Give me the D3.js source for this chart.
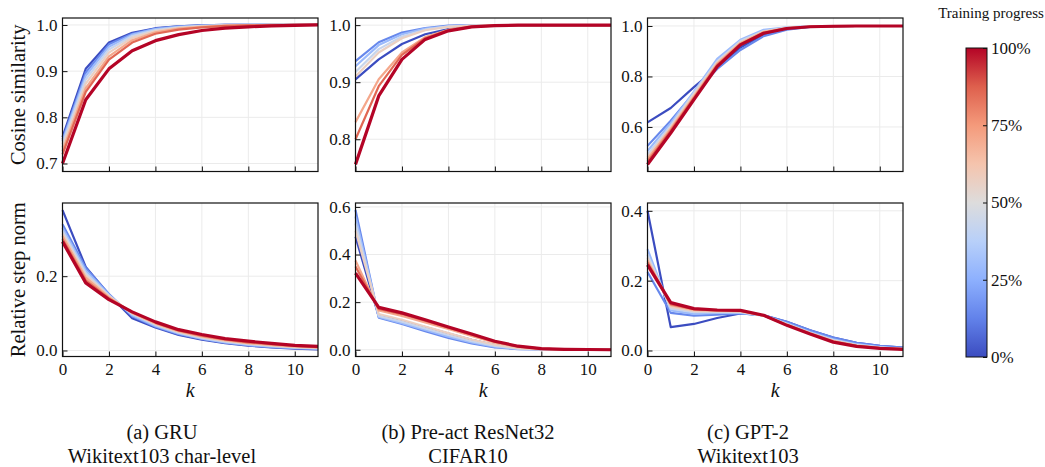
<!DOCTYPE html>
<html>
<head>
<meta charset="utf-8">
<script src="https://cdn.jsdelivr.net/npm/d3@7"></script>
<style>
    body { margin: 0; background: #fff; }
    text { font-family: "Liberation Serif", "Times New Roman", Times, "DejaVu Serif", serif; fill: #111; }
</style>
</head>
<body>
<script>
// k steps and training-progress levels of the plotted checkpoints
const steps = [0, 1, 2, 3, 4, 5, 6, 7, 8, 9, 10, 11];
const progress = [0, 0.14, 0.29, 0.43, 0.57, 0.71, 0.86, 1];

// cosine similarity, one row per checkpoint (0% ... 100%)
const gruCos = [
    [0.757, 0.905, 0.962, 0.983, 0.993, 0.997, 0.999, 1.0, 1.0, 1.0, 1.0, 1.0],
    [0.752, 0.897, 0.958, 0.981, 0.992, 0.997, 0.999, 1.0, 1.0, 1.0, 1.0, 1.0],
    [0.748, 0.890, 0.953, 0.979, 0.991, 0.996, 0.998, 0.999, 1.0, 1.0, 1.0, 1.0],
    [0.742, 0.882, 0.947, 0.976, 0.989, 0.995, 0.998, 0.999, 1.0, 1.0, 1.0, 1.0],
    [0.735, 0.873, 0.940, 0.972, 0.987, 0.994, 0.997, 0.999, 0.999, 1.0, 1.0, 1.0],
    [0.727, 0.863, 0.932, 0.967, 0.984, 0.992, 0.996, 0.998, 0.999, 1.0, 1.0, 1.0],
    [0.720, 0.855, 0.925, 0.962, 0.981, 0.990, 0.995, 0.998, 0.999, 0.999, 1.0, 1.0],
    [0.700, 0.838, 0.905, 0.944, 0.966, 0.979, 0.988, 0.993, 0.996, 0.998, 0.999, 1.0]
];
const resnetCos = [
    [0.905, 0.940, 0.967, 0.984, 0.993, 0.998, 1.0, 1.0, 1.0, 1.0, 1.0, 1.0],
    [0.937, 0.970, 0.987, 0.995, 0.999, 1.0, 1.0, 1.0, 1.0, 1.0, 1.0, 1.0],
    [0.928, 0.965, 0.984, 0.994, 0.998, 1.0, 1.0, 1.0, 1.0, 1.0, 1.0, 1.0],
    [0.918, 0.958, 0.980, 0.992, 0.998, 0.999, 1.0, 1.0, 1.0, 1.0, 1.0, 1.0],
    [0.910, 0.952, 0.977, 0.991, 0.997, 0.999, 1.0, 1.0, 1.0, 1.0, 1.0, 1.0],
    [0.830, 0.905, 0.952, 0.979, 0.992, 0.998, 0.999, 1.0, 1.0, 1.0, 1.0, 1.0],
    [0.800, 0.893, 0.948, 0.977, 0.991, 0.997, 0.999, 1.0, 1.0, 1.0, 1.0, 1.0],
    [0.756, 0.876, 0.940, 0.975, 0.990, 0.997, 0.999, 1.0, 1.0, 1.0, 1.0, 1.0]
];
const gptCos = [
    [0.618, 0.675, 0.758, 0.835, 0.915, 0.965, 0.988, 0.997, 0.999, 1.0, 1.0, 1.0],
    [0.525, 0.625, 0.735, 0.830, 0.905, 0.960, 0.985, 0.996, 0.999, 1.0, 1.0, 1.0],
    [0.505, 0.615, 0.740, 0.870, 0.945, 0.985, 0.995, 0.999, 1.0, 1.0, 1.0, 1.0],
    [0.490, 0.605, 0.735, 0.860, 0.940, 0.980, 0.994, 0.998, 1.0, 1.0, 1.0, 1.0],
    [0.480, 0.598, 0.728, 0.855, 0.935, 0.978, 0.993, 0.998, 1.0, 1.0, 1.0, 1.0],
    [0.472, 0.592, 0.720, 0.850, 0.932, 0.976, 0.992, 0.998, 0.999, 1.0, 1.0, 1.0],
    [0.462, 0.585, 0.715, 0.845, 0.928, 0.973, 0.991, 0.997, 0.999, 1.0, 1.0, 1.0],
    [0.451, 0.576, 0.708, 0.839, 0.925, 0.971, 0.990, 0.997, 0.999, 1.0, 1.0, 1.0]
];

// relative step norm
const gruNorm = [
    [0.378, 0.225, 0.150, 0.087, 0.062, 0.042, 0.029, 0.020, 0.013, 0.008, 0.005, 0.003],
    [0.340, 0.222, 0.152, 0.092, 0.064, 0.044, 0.031, 0.021, 0.014, 0.009, 0.006, 0.004],
    [0.330, 0.215, 0.150, 0.095, 0.066, 0.046, 0.032, 0.022, 0.015, 0.010, 0.007, 0.005],
    [0.322, 0.208, 0.148, 0.098, 0.069, 0.048, 0.034, 0.024, 0.017, 0.012, 0.008, 0.006],
    [0.315, 0.202, 0.146, 0.100, 0.071, 0.050, 0.036, 0.026, 0.019, 0.013, 0.009, 0.007],
    [0.308, 0.196, 0.143, 0.101, 0.073, 0.052, 0.038, 0.028, 0.020, 0.015, 0.011, 0.008],
    [0.300, 0.189, 0.140, 0.103, 0.075, 0.054, 0.040, 0.030, 0.022, 0.017, 0.012, 0.009],
    [0.293, 0.182, 0.137, 0.104, 0.077, 0.056, 0.043, 0.032, 0.025, 0.019, 0.014, 0.011]
];
const resnetNorm = [
    [0.475, 0.140, 0.120, 0.095, 0.068, 0.042, 0.020, 0.007, 0.002, 0.001, 0.0, 0.0],
    [0.587, 0.135, 0.108, 0.078, 0.050, 0.027, 0.010, 0.003, 0.001, 0.0, 0.0, 0.0],
    [0.560, 0.138, 0.112, 0.083, 0.055, 0.031, 0.013, 0.004, 0.001, 0.0, 0.0, 0.0],
    [0.530, 0.142, 0.118, 0.090, 0.062, 0.036, 0.016, 0.005, 0.001, 0.0, 0.0, 0.0],
    [0.500, 0.150, 0.126, 0.098, 0.070, 0.043, 0.021, 0.007, 0.002, 0.0, 0.0, 0.0],
    [0.375, 0.165, 0.142, 0.115, 0.087, 0.058, 0.030, 0.012, 0.004, 0.001, 0.0, 0.0],
    [0.350, 0.172, 0.150, 0.122, 0.093, 0.063, 0.034, 0.014, 0.005, 0.001, 0.0, 0.0],
    [0.322, 0.178, 0.155, 0.126, 0.096, 0.066, 0.036, 0.015, 0.005, 0.002, 0.001, 0.0]
];
const gptNorm = [
    [0.400, 0.067, 0.076, 0.093, 0.106, 0.101, 0.082, 0.058, 0.037, 0.022, 0.013, 0.008],
    [0.225, 0.108, 0.100, 0.103, 0.106, 0.101, 0.082, 0.058, 0.037, 0.022, 0.013, 0.008],
    [0.290, 0.115, 0.105, 0.108, 0.108, 0.100, 0.078, 0.053, 0.032, 0.018, 0.010, 0.005],
    [0.275, 0.120, 0.110, 0.110, 0.110, 0.100, 0.076, 0.051, 0.030, 0.016, 0.009, 0.005],
    [0.265, 0.125, 0.113, 0.112, 0.111, 0.100, 0.075, 0.050, 0.028, 0.015, 0.008, 0.004],
    [0.258, 0.130, 0.116, 0.114, 0.113, 0.100, 0.074, 0.049, 0.027, 0.014, 0.007, 0.004],
    [0.252, 0.133, 0.118, 0.115, 0.114, 0.100, 0.073, 0.048, 0.025, 0.013, 0.007, 0.004],
    [0.245, 0.137, 0.120, 0.116, 0.115, 0.101, 0.072, 0.047, 0.024, 0.012, 0.006, 0.003]
];

const xTicks = [0, 2, 4, 6, 8, 10];
const captions = [
    ["(a) GRU", "Wikitext103 char-level"],
    ["(b) Pre-act ResNet32", "CIFAR10"],
    ["(c) GPT-2", "Wikitext103"]
];
const cbarTicks = [0, 0.25, 0.5, 0.75, 1];

const FONT = '"Liberation Serif", "Times New Roman", Times, "DejaVu Serif", serif';

// matplotlib coolwarm, sampled at 9 points
const coolwarmStops = ["#3b4cc0", "#6282ea", "#8db0fe", "#b8d0f9", "#dddcdc",
                       "#f5c4ad", "#f49a7b", "#de604d", "#b40426"];
const coolwarm = d3.scaleLinear()
    .domain(d3.range(coolwarmStops.length).map(i => i / (coolwarmStops.length - 1)))
    .range(coolwarmStops)
    .interpolate(d3.interpolateRgb);

const panels = [
    { col: 0, row: 0, data: gruCos,     yDomain: [0.6827, 1.0151], yTicks: [0.7, 0.8, 0.9, 1.0], yLabel: "Cosine similarity" },
    { col: 1, row: 0, data: resnetCos,  yDomain: [0.7435, 1.0125], yTicks: [0.8, 0.9, 1.0] },
    { col: 2, row: 0, data: gptCos,     yDomain: [0.4235, 1.0316], yTicks: [0.6, 0.8, 1.0] },
    { col: 0, row: 1, data: gruNorm,    yDomain: [-0.0162, 0.397], yTicks: [0.0, 0.2], yLabel: "Relative step norm" },
    { col: 1, row: 1, data: resnetNorm, yDomain: [-0.0283, 0.6165], yTicks: [0.0, 0.2, 0.4, 0.6] },
    { col: 2, row: 1, data: gptNorm,    yDomain: [-0.0172, 0.4224], yTicks: [0.0, 0.2, 0.4] }
];

const colLeft = [62.5, 355.5, 647.5];
const plotW = 255.5;
const rowTop = [18, 203];
const plotH = 153.5;

const svg = d3.select("body").append("svg")
    .attr("width", 1045)
    .attr("height", 467);

panels.forEach(function (p) {
    let left = colLeft[p.col], top = rowTop[p.row];
    let x = d3.scaleLinear().domain([0, 11]).range([left, left + plotW]);
    let y = d3.scaleLinear().domain(p.yDomain).range([top + plotH, top]);

    let g = svg.append("g");

    // grid
    g.append("g").selectAll("line.gx")
        .data(xTicks)
        .enter().append("line")
        .attr("x1", d => x(d)).attr("x2", d => x(d))
        .attr("y1", top).attr("y2", top + plotH)
        .attr("stroke", "#ebebeb").attr("stroke-width", 1);
    g.append("g").selectAll("line.gy")
        .data(p.yTicks)
        .enter().append("line")
        .attr("x1", left).attr("x2", left + plotW)
        .attr("y1", d => y(d)).attr("y2", d => y(d))
        .attr("stroke", "#ebebeb").attr("stroke-width", 1);

    // lines, 0% first so the finished run is on top
    let line = d3.line()
        .x((d, i) => x(steps[i]))
        .y(d => y(d));

    g.append("g").selectAll("path")
        .data(p.data)
        .enter().append("path")
        .attr("d", line)
        .attr("fill", "none")
        .attr("stroke", (d, i) => coolwarm(progress[i]))
        .attr("stroke-width", (d, i) => i === p.data.length - 1 ? 3.2 : 2.2)
        .attr("stroke-linejoin", "round");

    // axes, ticks pointing inward
    let yAxis = d3.axisLeft(y)
        .tickValues(p.yTicks)
        .tickSizeInner(-5).tickSizeOuter(0).tickPadding(5)
        .tickFormat(d3.format(".1f"));
    let ya = g.append("g").attr("transform", "translate(" + left + ",0)").call(yAxis);

    let xAxis = d3.axisBottom(x)
        .tickValues(xTicks)
        .tickSizeInner(-5).tickSizeOuter(0).tickPadding(6)
        .tickFormat(p.row === 1 ? d3.format("d") : "");
    let xa = g.append("g").attr("transform", "translate(0," + (top + plotH) + ")").call(xAxis);

    [ya, xa].forEach(function (a) {
        a.attr("font-family", FONT);
        a.select(".domain").remove();
        a.selectAll(".tick line").attr("stroke", "#111").attr("stroke-width", 1);
        a.selectAll(".tick text")
            .attr("font-size", 17)
            .attr("fill", "#111");
    });

    g.append("rect")
        .attr("x", left).attr("y", top)
        .attr("width", plotW).attr("height", plotH)
        .attr("fill", "none")
        .attr("stroke", "#111").attr("stroke-width", 1.2);

    if (p.yLabel) {
        g.append("text")
            .attr("transform", "translate(25," + (top + plotH / 2) + ") rotate(-90)")
            .attr("text-anchor", "middle")
            .attr("font-size", 20.5)
            .text(p.yLabel);
    }

    if (p.row === 1) {
        g.append("text")
            .attr("x", left + plotW / 2)
            .attr("y", 397)
            .attr("text-anchor", "middle")
            .attr("font-size", 20)
            .attr("font-style", "italic")
            .text("k");
    }
});

// captions under each column
const captionX = [162, 468, 748];
captions.forEach(function (c, i) {
    svg.append("text")
        .attr("x", captionX[i]).attr("y", 439)
        .attr("text-anchor", "middle")
        .attr("font-size", 20.5)
        .text(c[0]);
    svg.append("text")
        .attr("x", captionX[i]).attr("y", 463)
        .attr("text-anchor", "middle")
        .attr("font-size", 20.5)
        .text(c[1]);
});

// colour bar
const cbX = 966, cbW = 21, cbTop = 48, cbBottom = 357;
let grad = svg.append("defs").append("linearGradient")
    .attr("id", "cbGrad")
    .attr("x1", 0).attr("y1", 1).attr("x2", 0).attr("y2", 0);
grad.selectAll("stop")
    .data(coolwarmStops)
    .enter().append("stop")
    .attr("offset", (d, i) => i / (coolwarmStops.length - 1))
    .attr("stop-color", d => d);

svg.append("rect")
    .attr("x", cbX).attr("y", cbTop)
    .attr("width", cbW).attr("height", cbBottom - cbTop)
    .attr("fill", "url(#cbGrad)")
    .attr("stroke", "#111").attr("stroke-width", 1);

let cbScale = d3.scaleLinear().domain([0, 1]).range([cbBottom, cbTop]);
let cbAxis = d3.axisRight(cbScale)
    .tickValues(cbarTicks)
    .tickSizeInner(-4).tickSizeOuter(0).tickPadding(4)
    .tickFormat(d => Math.round(d * 100) + "%");
let cba = svg.append("g").attr("transform", "translate(" + (cbX + cbW) + ",0)").call(cbAxis);
cba.attr("font-family", FONT);
cba.select(".domain").remove();
cba.selectAll(".tick line").attr("stroke", "#111");
cba.selectAll(".tick text")
    .attr("font-size", 17)
    .attr("fill", "#111");

svg.append("text")
    .attr("x", 991).attr("y", 18)
    .attr("text-anchor", "middle")
    .attr("font-size", 15)
    .text("Training progress");
</script>
</body>
</html>
